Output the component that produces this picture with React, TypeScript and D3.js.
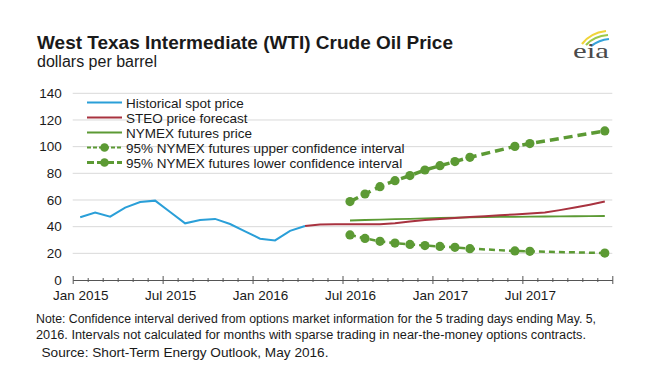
import * as d3 from "d3";
import { useEffect, useRef } from "react";

// months counted from Jan 2015 (index 0)
const tickLabels = ["Jan 2015", "Jul 2015", "Jan 2016", "Jul 2016", "Jan 2017", "Jul 2017"];
const yTicks = [0, 20, 40, 60, 80, 100, 120, 140];

const spotStart = 0;
const spot = [47.0, 50.5, 47.5, 54.3, 58.5, 59.5, 51.0, 42.5, 45.0, 45.8, 42.0, 36.5, 31.0, 29.7, 36.8, 40.5];

const steoStart = 15;
const steo = [40.5, 41.6, 41.8, 41.8, 41.8, 41.8, 42.5, 43.8, 45.0, 45.8, 46.5, 47.2, 47.8, 48.5, 49.2, 49.9, 50.6, 52.4, 54.4, 56.5, 58.8];

const futuresStart = 18;
const futures = [44.6, 45.0, 45.3, 45.6, 45.9, 46.2, 46.5, 46.7, 46.9, 47.1, 47.3, 47.4, 47.5, 47.6, 47.7, 47.8, 47.9, 48.0];

const ciMonths = [18, 19, 20, 21, 22, 23, 24, 25, 26, 29, 30, 35];
const upperCI = [58.8, 64.5, 70.0, 74.5, 78.3, 82.5, 85.7, 88.8, 92.0, 100.2, 102.3, 111.8];
const lowerCI = [33.8, 31.2, 29.0, 27.7, 26.7, 25.8, 25.2, 24.5, 23.5, 21.8, 21.5, 20.2];

const legendLabels = [
  "Historical spot price",
  "STEO price forecast",
  "NYMEX futures price",
  "95% NYMEX futures upper confidence interval",
  "95% NYMEX futures lower confidence interval",
];

const BLUE = "#2a9fd8";
const RED = "#a8323f";
const GREEN = "#5c9a34";
const FONT = "'Liberation Sans', Arial, sans-serif";

const App = () => {
  const ref = useRef(null);

  useEffect(() => {
    const svg = d3.select(ref.current);
    svg.selectAll("*").remove();

    const x = d3.scaleLinear().domain([0, 36]).range([72.7, 612.3]);
    const y = d3.scaleLinear().domain([0, 140]).range([280, 93.3]);
    const mid = (i) => x(i + 0.5);

    // titles
    svg.append("text").attr("x", 37).attr("y", 48.5)
      .attr("textLength", 416).attr("lengthAdjust", "spacingAndGlyphs")
      .style("font", `bold 18.5px ${FONT}`).attr("fill", "#1a1a1a")
      .text("West Texas Intermediate (WTI) Crude Oil Price");
    svg.append("text").attr("x", 37).attr("y", 66.5)
      .style("font", `16px ${FONT}`).attr("fill", "#1a1a1a")
      .text("dollars per barrel");

    // eia logo
    const logo = svg.append("g").attr("fill", "none");
    logo.append("path").attr("d", "M582,44 Q590,33 606,31")
      .attr("stroke", "#f0d43a").attr("stroke-width", 2.2);
    logo.append("path").attr("d", "M586,45 Q594,36 608,35")
      .attr("stroke", "#9cc84a").attr("stroke-width", 2.2);
    logo.append("path").attr("d", "M591,46 Q599,40 609,39")
      .attr("stroke", "#35a3d9").attr("stroke-width", 2.2);
    logo.append("text").attr("x", 573).attr("y", 58)
      .attr("textLength", 36).attr("lengthAdjust", "spacingAndGlyphs")
      .style("font", "22px 'Liberation Serif', serif").attr("fill", "#4a4a4a")
      .text("eia");

    // grid
    svg.append("g").selectAll("line").data(yTicks.filter(d => d > 0)).enter()
      .append("line")
      .attr("x1", x(0)).attr("x2", x(36))
      .attr("y1", d => y(d)).attr("y2", d => y(d))
      .attr("stroke", "#d9d9d9").attr("stroke-width", 1);

    // y labels
    const yAxis = d3.axisLeft(y).tickValues(yTicks).tickSize(0).tickPadding(11);
    const gy = svg.append("g").attr("transform", `translate(${x(0)},0)`).call(yAxis);
    gy.select(".domain").remove();
    gy.selectAll("text").style("font", `13.5px ${FONT}`).attr("fill", "#1a1a1a");

    // x axis with month ticks
    const xAxis = d3.axisBottom(x).tickValues(d3.range(0, 37)).tickSize(0).tickFormat(() => "");
    const gx = svg.append("g").attr("transform", `translate(0,${y(0)})`).call(xAxis);
    gx.select(".domain").attr("stroke", "#555").attr("stroke-width", 1.2);
    gx.selectAll(".tick line")
      .attr("stroke", "#555")
      .attr("y1", d => (d % 6 === 0 || d === 36 ? -4 : -2))
      .attr("y2", d => (d % 6 === 0 || d === 36 ? 4 : 2));

    const xLab = d3.axisBottom(x).tickValues(tickLabels.map((_, i) => i * 6 + 0.5))
      .tickSize(0).tickPadding(10).tickFormat((_, i) => tickLabels[i]);
    const gl = svg.append("g").attr("transform", `translate(0,${y(0)})`).call(xLab);
    gl.select(".domain").remove();
    gl.selectAll("text").style("font", `13.5px ${FONT}`).attr("fill", "#1a1a1a");

    // series
    const line = d3.line().x(d => mid(d[0])).y(d => y(d[1]));
    const pts = (start, vals) => vals.map((v, i) => [start + i, v]);

    const ciUp = ciMonths.map((m, i) => [m, upperCI[i]]);
    const ciLo = ciMonths.map((m, i) => [m, lowerCI[i]]);

    svg.append("path").attr("d", line(ciUp)).attr("fill", "none")
      .attr("stroke", GREEN).attr("stroke-width", 3.5).attr("stroke-dasharray", "9,5");
    svg.append("path").attr("d", line(ciLo)).attr("fill", "none")
      .attr("stroke", GREEN).attr("stroke-width", 2.5).attr("stroke-dasharray", "6,4");

    svg.append("path").attr("d", line(pts(futuresStart, futures))).attr("fill", "none")
      .attr("stroke", GREEN).attr("stroke-width", 1.8);
    svg.append("path").attr("d", line(pts(steoStart, steo))).attr("fill", "none")
      .attr("stroke", RED).attr("stroke-width", 2);
    svg.append("path").attr("d", line(pts(spotStart, spot))).attr("fill", "none")
      .attr("stroke", BLUE).attr("stroke-width", 2);

    svg.append("g").selectAll("circle").data(ciUp.concat(ciLo)).enter()
      .append("circle")
      .attr("cx", d => mid(d[0])).attr("cy", d => y(d[1])).attr("r", 4.6)
      .attr("fill", GREEN);

    // legend
    const lg = svg.append("g");
    legendLabels.forEach((label, i) => {
      const ly = 102.5 + i * 15;
      const row = lg.append("g");
      if (i < 3) {
        row.append("line").attr("x1", 87).attr("x2", 122).attr("y1", ly).attr("y2", ly)
          .attr("stroke", [BLUE, RED, GREEN][i]).attr("stroke-width", 2);
      } else {
        row.append("line").attr("x1", 87).attr("x2", 122).attr("y1", ly).attr("y2", ly)
          .attr("stroke", GREEN)
          .attr("stroke-width", i === 3 ? 2 : 3)
          .attr("stroke-dasharray", i === 3 ? "4,2" : "7,3");
        row.append("circle").attr("cx", 104.5).attr("cy", ly).attr("r", 4.3).attr("fill", GREEN);
      }
      row.append("text").attr("x", 126).attr("y", ly + 5)
        .style("font", `13.5px ${FONT}`).attr("fill", "#1a1a1a").text(label);
    });

    // note and source
    svg.append("text").attr("x", 36).attr("y", 323)
      .attr("textLength", 560).attr("lengthAdjust", "spacingAndGlyphs")
      .style("font", `12px ${FONT}`).attr("fill", "#1a1a1a")
      .text("Note: Confidence interval derived from options market information for the 5 trading days ending May. 5,");
    svg.append("text").attr("x", 36).attr("y", 339)
      .attr("textLength", 550).attr("lengthAdjust", "spacingAndGlyphs")
      .style("font", `12px ${FONT}`).attr("fill", "#1a1a1a")
      .text("2016. Intervals not calculated for months with sparse trading in near-the-money options contracts.");
    svg.append("text").attr("x", 41.5).attr("y", 357)
      .attr("textLength", 287).attr("lengthAdjust", "spacingAndGlyphs")
      .style("font", `13px ${FONT}`).attr("fill", "#1a1a1a")
      .text("Source: Short-Term Energy Outlook, May 2016.");
  }, []);

  return (
    <svg ref={ref} width={650} height={385}
      style={{ position: "absolute", left: 0, top: 0, background: "#fff" }} />
  );
};

export default App;
